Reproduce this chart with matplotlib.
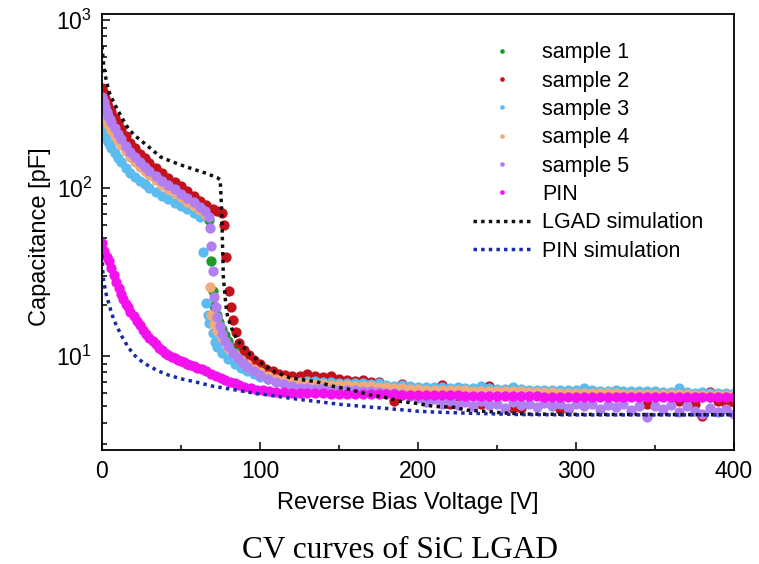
import numpy as np
import matplotlib
matplotlib.use('Agg')
import matplotlib.pyplot as plt
from matplotlib.ticker import LogLocator, NullFormatter, MultipleLocator

plt.rcParams['font.family'] = 'Liberation Sans'
plt.rcParams['mathtext.fontset'] = 'custom'
plt.rcParams['mathtext.rm'] = 'Liberation Sans'
plt.rcParams['mathtext.it'] = 'Liberation Sans:italic'

# ---------------- data ----------------
# common voltage grid of the flat part (125 V .. 400 V, step 5 V)
v_tail = np.arange(125, 401, 5)

# sample 1 (green)
s1_v = [0, 2, 4, 6, 8, 10, 12, 15, 18, 21, 24, 27, 30, 34, 38, 42, 46, 50, 54, 58, 62, 66, 68,
        69, 70, 71, 72.5, 74, 76, 78, 80, 83, 86, 90, 95, 100, 105, 110, 115, 120]
s1_c = [320, 285, 255, 232, 214, 200, 187, 171, 157, 146, 137, 129, 121, 113, 106, 100, 94, 89, 84, 79, 74, 69, 64,
        36.7, 24.4, 19.9, 17.5, 16, 14.5, 13.3, 12.3, 11.2, 10.4, 9.5, 8.8, 8.2, 7.8, 7.4, 7.1, 6.9]
s1_tail = [6.7, 6.6, 6.6, 6.5, 6.5, 6.45, 6.4, 6.4, 6.35, 6.35, 6.3, 6.3, 6.3, 6.25, 6.25, 6.2, 6.2, 6.2, 6.15, 6.15,
           6.1, 6.1, 6.1, 6.05, 6.05, 6.0, 6.0, 6.0, 6.0, 5.95, 5.95, 5.95, 5.9, 5.9, 5.9, 5.9, 5.85, 5.85, 5.85, 5.85,
           5.8, 5.8, 5.8, 5.8, 5.75, 5.75, 5.75, 5.75, 5.7, 5.7, 5.7, 5.7, 5.65, 5.65, 5.65, 5.65]

# sample 2 (red)
s2_v = [0, 1, 2, 3, 4, 5, 6, 8, 10, 12, 15, 18, 21, 24, 27, 30, 34, 38, 42, 46, 50, 54, 58, 62, 66, 70, 73, 76,
        77.5, 78.5, 80.5, 81.5, 83, 84.5, 87, 90, 93, 96, 100, 104, 108, 112, 116, 120]
s2_c = [394, 370, 345, 322, 305, 293, 282, 260, 242, 225, 203, 186, 172, 160, 150, 141, 131, 122, 115, 108, 102, 96, 90, 84, 79, 75, 73, 71,
        60, 39, 24.5, 19.6, 16.4, 13.9, 12.0, 10.9, 10.1, 9.5, 8.9, 8.4, 8.1, 7.8, 7.7, 7.6]
s2_tail = [7.6, 7.8, 7.6, 7.5, 7.6, 7.3, 7.2, 7.1, 7.2, 7.0, 7.0, 6.6, 5.35, 6.8, 6.3, 6.2, 6.3, 6.1, 6.7, 5.2,
           5.15, 6.2, 6.3, 5.15, 6.6, 6.0, 6.2, 4.9, 4.9, 6.1, 6.2, 5.9, 6.0, 4.85, 4.8, 6.0, 6.1, 5.9, 6.0, 6.1,
           5.8, 5.9, 6.0, 5.8, 5.2, 5.9, 5.8, 5.8, 5.35, 5.7, 5.2, 4.4, 6.1, 5.35, 5.2, 5.3]

# sample 3 (light blue)
s3_v = [0, 1, 2, 3, 4, 5, 6, 8, 10, 12, 15, 18, 21, 24, 27, 30, 34, 38, 42, 46, 50, 54, 58, 62,
        63.8, 66, 67, 68, 70, 71.6, 73, 76, 80, 84, 88, 92, 96, 100, 105, 110, 115, 120]
s3_c = [230, 217, 205, 195, 187, 180, 173, 161, 151, 143, 132, 123, 116, 110, 105, 100, 95, 90, 85.5, 81.5, 78, 74.5, 71, 67,
        41.6, 20.7, 17.5, 15.7, 13.7, 12.1, 11.3, 10.4, 9.6, 9.0, 8.5, 8.1, 7.8, 7.5, 7.3, 7.1, 7.0, 6.9]
s3_tail = [7.0, 7.05, 7.1, 6.95, 7.0, 6.9, 6.9, 6.85, 6.85, 6.8, 6.85, 6.7, 6.65, 6.7, 6.6, 6.55, 6.5, 6.5, 6.5, 6.45,
           6.55, 6.4, 6.4, 6.6, 6.4, 6.35, 6.35, 6.55, 6.35, 6.3, 6.3, 6.3, 6.3, 6.25, 6.3, 6.25, 6.45, 6.25, 6.2, 6.2,
           6.25, 6.2, 6.15, 6.2, 6.15, 6.15, 6.1, 6.1, 6.4, 6.1, 6.05, 6.1, 6.05, 6.05, 6.0, 6.05]

# sample 4 (orange)
s4_v = [0, 1, 2, 3, 4, 5, 6, 8, 10, 12, 15, 18, 21, 24, 27, 30, 34, 38, 42, 46, 50, 54, 58, 62, 66,
        68.4, 69, 71, 73, 76, 80, 84, 88, 92, 96, 100, 105, 110, 115, 120]
s4_c = [300, 282, 266, 252, 240, 230, 221, 205, 192, 180, 165, 153, 142, 133, 126, 119, 111, 104, 98, 93, 88, 83, 78.5, 74, 69,
        25.8, 17.5, 15.5, 14, 12.8, 11.2, 10.2, 9.5, 8.9, 8.4, 8.0, 7.6, 7.3, 7.15, 7.0]
s4_tail = [6.85, 6.85, 6.8, 6.8, 6.75, 6.7, 6.7, 6.65, 6.6, 6.6, 6.55, 6.5, 6.45, 6.4, 6.35, 6.35, 6.3, 6.3, 6.3, 6.25,
           6.25, 6.25, 6.2, 6.2, 6.2, 6.2, 6.15, 6.15, 6.15, 6.1, 6.1, 6.1, 6.1, 6.05, 6.05, 6.05, 6.0, 6.0, 6.0, 6.0,
           6.0, 5.95, 5.95, 5.95, 5.95, 5.9, 5.9, 5.9, 5.9, 5.9, 5.85, 5.85, 5.85, 5.85, 5.85, 5.85]

# sample 5 (violet)
s5_v = [0, 1, 2, 3, 4, 5, 6, 8, 10, 12, 15, 18, 21, 24, 27, 30, 34, 38, 42, 46, 50, 54, 58, 62, 65, 68,
        68.4, 69, 70, 71, 72, 73, 74.5, 76, 78, 80, 83, 86, 89, 92, 96, 100, 105, 110, 115, 120]
s5_c = [350, 325, 305, 285, 270, 257, 246, 226, 210, 196, 178, 164, 152, 142, 134, 126, 118, 110, 104, 98, 92, 87, 82, 77, 73, 67,
        57.8, 45, 32, 22.4, 19.5, 17, 15, 13.5, 12.3, 11.4, 10.4, 9.7, 9.1, 8.6, 8.1, 7.7, 7.3, 7.0, 6.8, 6.6]
s5_tail = [6.45, 6.4, 6.35, 6.4, 6.3, 6.3, 6.25, 6.3, 6.2, 6.2, 6.1, 6.0, 6.05, 5.9, 5.8, 5.6, 5.3, 5.5, 5.15, 5.4,
           5.1, 5.3, 5.0, 5.35, 5.1, 5.2, 4.9, 5.3, 5.1, 5.2, 4.95, 5.25, 5.0, 5.2, 4.9, 5.15, 5.0, 5.2, 4.85, 5.1,
           4.95, 5.2, 4.75, 5.05, 4.3, 5.0, 4.8, 5.1, 4.6, 5.0, 4.7, 4.5, 4.9, 4.6, 4.8, 4.5]

# PIN (magenta)
pin_v = [0, 1.5, 3, 4.5, 6, 7.5, 9, 10.5, 12, 13.5, 15, 16.5, 18, 20, 22, 24, 26, 28, 30, 32, 34, 36, 38, 40,
         42, 44, 46, 48, 50, 52, 54, 56, 58, 60, 63, 66, 69, 72, 75, 78, 81, 84, 87, 90, 94, 98, 102, 106, 110, 115, 120]
pin_c = [47, 42, 38.8, 36.5, 33.5, 30.5, 27.7, 25.3, 23.5, 21.9, 20.5, 19.5, 18.3, 17.2, 16.1, 15.2, 14.3, 13.5, 12.8, 12.2,
         11.7, 11.2, 10.8, 10.4, 10.1, 9.9, 9.7, 9.5, 9.3, 9.15, 9.0, 8.8, 8.65, 8.5, 8.3, 8.1, 7.85, 7.6, 7.4, 7.2,
         7.0, 6.85, 6.7, 6.55, 6.4, 6.3, 6.22, 6.16, 6.12, 6.07, 6.03]
pin_tail = [6.0, 6.0, 5.98, 5.97, 5.96, 5.95, 5.94, 5.93, 5.92, 5.91, 5.9, 5.9, 5.89, 5.88, 5.87, 5.86, 5.85, 5.84, 5.83, 5.82,
            5.81, 5.8, 5.8, 5.79, 5.78, 5.77, 5.76, 5.75, 5.75, 5.74, 5.73, 5.72, 5.72, 5.71, 5.7, 5.7, 5.7, 5.69, 5.69, 5.68,
            5.68, 5.67, 5.67, 5.66, 5.66, 5.65, 5.65, 5.65, 5.66, 5.66, 5.67, 5.67, 5.68, 5.68, 5.69, 5.7]

# simulations (dotted lines)
lgad_v = [0, 0.5, 1, 2, 3, 4, 5, 7.6, 10, 13, 16, 20, 26.6, 32, 37, 43, 50, 57, 65, 70, 73, 74.8, 75.3, 75.8, 76.3,
          76.8, 78, 79, 81, 83.2, 86, 89.5, 94, 98, 104, 110, 119, 125, 136, 146, 157, 168, 178, 189, 200, 210,
          222, 231, 244, 257, 270, 300, 350, 400]
lgad_c = [700, 620, 550, 470, 425, 390, 362, 321, 290, 258, 231, 208, 185, 168, 153, 145, 137, 130, 123, 118, 115, 112,
          90, 71, 45, 29.5, 22, 18, 15.5, 13.7, 12.3, 11.3, 10.1, 9.5, 8.6, 8.0, 7.4, 7.25, 7.0, 6.6, 6.3, 5.9, 5.7,
          5.35, 5.2, 5.0, 4.95, 4.75, 4.66, 4.55, 4.5, 4.48, 4.47, 4.46]
pinsim_v = [0, 0.5, 1, 2, 3, 4, 6, 8, 10, 12.7, 16.5, 20, 23, 27, 31.7, 36, 41.8, 50, 59, 70, 83, 94, 110, 125, 136,
            150, 168, 178, 200, 210, 230, 265, 300, 350, 400]
pinsim_c = [40, 32, 28, 25, 22.5, 21, 18, 16, 14.6, 13, 11.3, 10.2, 9.6, 9.0, 8.5, 8.1, 7.7, 7.3, 7.0, 6.6, 6.3, 6.05,
            5.75, 5.5, 5.35, 5.15, 4.97, 4.88, 4.68, 4.63, 4.56, 4.47, 4.45, 4.45, 4.45]

labels = ['sample 1', 'sample 2', 'sample 3', 'sample 4', 'sample 5', 'PIN', 'LGAD simulation', 'PIN simulation']
colors = ['#1f9a2a', '#c4121c', '#5cbcf0', '#f2aa78', '#b27ff2', '#f510ee', '#111111', '#1a2aa6']

# ---------------- plot ----------------
fig = plt.figure(figsize=(7.59, 5.64), dpi=100)
ax = fig.add_axes([102 / 759, 1 - 450 / 564, 632 / 759, 436 / 564])

series = [(s1_v, s1_c, s1_tail), (s2_v, s2_c, s2_tail), (s3_v, s3_c, s3_tail),
          (s4_v, s4_c, s4_tail), (s5_v, s5_c, s5_tail), (pin_v, pin_c, pin_tail)]
handles = {}
# drawing order (bottom -> top): sample 1, sample 2, sample 3, sample 4, sample 5, PIN
for i in [0, 1, 2, 3, 4, 5]:
    v, c, tail = series[i]
    x = list(v) + list(v_tail)
    y = list(c) + list(tail)
    h, = ax.plot(x, y, 'o', ms=7.4, mec='none', color=colors[i], label=labels[i])
    handles[i] = h

h, = ax.plot(lgad_v, lgad_c, color=colors[6], lw=2.5, ls=(0, (1, 1.2)), label=labels[6])
handles[6] = h
h, = ax.plot(pinsim_v, pinsim_c, color=colors[7], lw=2.5, ls=(0, (1, 1.2)), label=labels[7])
handles[7] = h

ax.set_yscale('log')
ax.set_xlim(0, 400)
ax.set_ylim(2.75, 1086)

ax.set_xticks([0, 100, 200, 300, 400])
ax.xaxis.set_minor_locator(MultipleLocator(50))
ax.set_yticks([10, 100, 1000], labels=[r'$10^{1}$', r'$10^{2}$', r'$10^{3}$'])
ax.yaxis.set_minor_locator(LogLocator(base=10, subs=np.arange(2, 10)))
ax.yaxis.set_minor_formatter(NullFormatter())

ax.tick_params(which='both', direction='in', top=False, right=False, width=1.1, labelsize=16.5)
ax.tick_params(which='major', length=6)
ax.tick_params(which='minor', length=3.5)
ax.tick_params(axis='x', pad=7)
ax.tick_params(axis='y', pad=7)
for sp in ax.spines.values():
    sp.set_linewidth(1.3)

ax.set_xlabel('Reverse Bias Voltage [V]', fontsize=17)
ax.set_ylabel('Capacitance [pF]', fontsize=17)
ax.xaxis.set_label_coords((408 - 102) / 632, -0.096)
ax.yaxis.set_label_coords(-0.081, 0.489)

ax.legend([handles[i] for i in range(8)], labels, loc='upper left',
          bbox_to_anchor=(0.587, 0.935), frameon=False, fontsize=15.5,
          markerscale=0.45, handlelength=2.65, handletextpad=0.55,
          labelspacing=0.34, borderpad=0, borderaxespad=0)

fig.text(400 / 759, 1 - 558 / 564, 'CV curves of SiC LGAD', ha='center', va='baseline',
         family='Liberation Serif', fontsize=22.5)

fig.savefig('out.png', dpi=100)
